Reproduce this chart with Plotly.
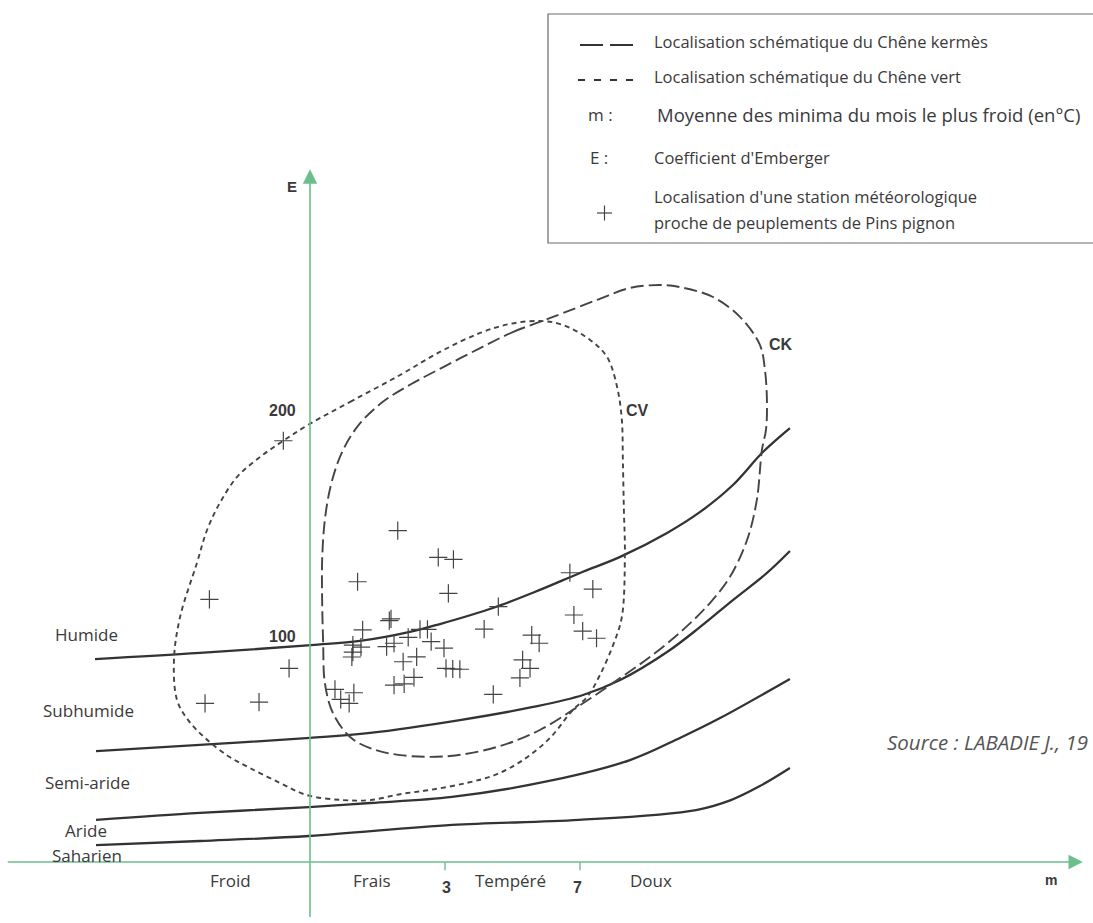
import plotly.graph_objects as go

# ---------------------------------------------------------------
# Climagramme d'Emberger : m (°C) en abscisse, E (quotient) en ordonnée
# ---------------------------------------------------------------

# Limites des étages bioclimatiques (m, E)
humide_m = [-7.37, -4.26, -0.97, 0.48, 1.96, 2.85, 4.42, 5.81, 7.00, 8.19, 9.58, 10.56, 11.53, 12.42, 13.22]
humide_E = [89.8, 92.5, 96.0, 97.8, 101.8, 105.3, 112.4, 120.4, 127.9, 135.0, 145.6, 154.9, 166.8, 181.4, 192.0]

subhumide_m = [-7.34, -4.26, -1.00, 0.78, 3.44, 5.61, 7.09, 8.19, 9.58, 10.56, 11.53, 12.54, 13.22]
subhumide_E = [49.1, 51.8, 54.9, 57.1, 62.8, 68.6, 73.9, 80.5, 92.9, 104.0, 115.9, 127.9, 137.6]

semiaride_m = [-7.34, -4.26, -1.03, 0.78, 3.21, 6.23, 8.48, 9.96, 11.15, 13.22]
semiaride_E = [18.6, 21.7, 24.3, 26.1, 28.8, 36.3, 45.1, 54.9, 63.7, 81.0]

aride_m = [-7.34, -4.26, -1.03, 3.21, 6.97, 10.44, 11.47, 12.33, 13.22]
aride_E = [7.5, 9.3, 11.5, 16.4, 18.6, 23.0, 27.4, 33.6, 41.6]

# Enveloppe du Chêne vert (CV)
cv_m = [-1.06, 0.19, 1.67, 2.85, 4.04, 4.93, 5.81, 6.50, 7.30, 7.80, 8.10, 8.24, 8.27, 8.30, 8.33,
        8.24, 7.98, 7.59, 7.21, 6.79, 6.11, 5.31, 4.48, 3.65, 2.56, 1.70, 0.78, -0.02, -1.09,
        -1.89, -2.78, -3.43, -4.11, -4.61, -4.94, -5.03, -4.85, -4.35, -4.05, -3.67, -3.16,
        -2.48, -1.80, -1.06]
cv_E = [193.4, 203.6, 215.5, 225.7, 234.1, 238.1, 239.4, 237.6, 231.0, 223.5, 210.2, 195.6, 177.9, 155.8, 136.7,
        108.4, 96.0, 82.7, 73.0, 67.3, 54.9, 45.1, 38.5, 35.0, 31.9, 30.1, 27.4, 27.4, 29.6,
        35.0, 41.6, 46.9, 54.9, 62.8, 71.7, 89.4, 108.4, 132.3, 146.9, 158.9, 170.4,
        179.2, 186.3, 193.4]

# Enveloppe du Chêne kermès (CK)
ck_m = [4.04, 5.01, 5.81, 6.50, 7.50, 8.48, 9.37, 9.96, 10.94, 11.74, 12.33, 12.48, 12.54, 12.51, 12.39,
        12.24, 11.95, 11.44, 10.85, 10.05, 9.07, 8.10, 7.59, 6.79, 5.81, 4.63, 3.15, 1.67, 0.78, 0.19,
        -0.32, -0.56, -0.61, -0.64, -0.64, -0.56, -0.38, -0.05, 0.45, 1.15, 2.00, 2.95, 4.04]
ck_E = [227.4, 234.5, 239.0, 242.9, 248.7, 254.0, 255.3, 254.4, 250.0, 241.2, 228.8, 217.7, 203.1, 191.2, 182.3,
        160.2, 142.5, 126.1, 114.6, 102.7, 90.7, 80.5, 75.2, 67.3, 58.4, 51.3, 46.9, 47.3, 50.4, 55.3,
        65.9, 79.2, 96.9, 115.9, 133.6, 151.3, 166.8, 181.4, 193.5, 203.5, 211.5, 219.0, 227.4]

# Stations météorologiques proches de peuplements de Pins pignon
station_m = [1.60, 2.80, 3.25, 0.41, 3.10, 6.70, 7.38, 4.58, 6.82, 4.16, 7.08, 7.49, 5.57, 5.79,
             5.30, 5.52, 5.22, 4.43, 0.56, 1.35, 1.40, 2.26, 2.48, 0.27, 0.51, 0.27, 0.24, 1.27,
             1.49, 1.91, 2.59, 2.97, 2.16, 1.76, 3.03, 3.23, 3.44, 2.08, 1.49, 1.79, -0.26, 0.30,
             -0.09, 0.16, -1.79, -3.98, -1.62, -4.11, -2.51]
station_E = [146.6, 134.8, 133.9, 124.0, 118.9, 128.0, 120.7, 113.0, 109.3, 103.0, 102.2, 99.0, 100.4, 96.8,
             89.4, 85.7, 81.5, 74.2, 102.7, 106.8, 107.6, 102.9, 102.9, 96.0, 95.1, 92.9, 90.7, 95.3,
             96.8, 99.4, 97.5, 94.6, 90.8, 88.6, 85.7, 85.4, 85.3, 81.7, 78.3, 78.8, 76.4, 74.9,
             72.0, 70.2, 186.4, 116.2, 85.7, 70.2, 70.7]

# Étiquettes
etages = ["Humide", "Subhumide", "Semi-aride", "Aride", "Saharien"]
hivers = ["Froid", "Frais", "Tempéré", "Doux"]
m_ticks = [3, 7]
E_ticks = [100, 200]

INK = "#3a3a3a"
GREEN = "#6cbf8c"
FONT = "Open Sans"
BOLD = "Liberation Sans"

W, H = 1093, 923
X_RANGE = [-10.185, 22.2]
Y_RANGE = [-26.99, 381.42]
Y_AXIS_M = -1.0  # position de l'axe des E

fig = go.Figure()

for xs, ys in [(humide_m, humide_E), (subhumide_m, subhumide_E),
               (semiaride_m, semiaride_E), (aride_m, aride_E)]:
    fig.add_trace(go.Scatter(x=xs, y=ys, mode="lines",
                             line=dict(color="#333333", width=2.3, shape="spline", smoothing=1.0),
                             hoverinfo="skip", showlegend=False))

fig.add_trace(go.Scatter(x=cv_m, y=cv_E, mode="lines",
                         line=dict(color="#444444", width=1.9, dash="5px,4px",
                                   shape="spline", smoothing=1.0),
                         hoverinfo="skip", showlegend=False))
fig.add_trace(go.Scatter(x=ck_m, y=ck_E, mode="lines",
                         line=dict(color="#444444", width=1.9, dash="13px,5px",
                                   shape="spline", smoothing=1.0),
                         hoverinfo="skip", showlegend=False))

fig.add_trace(go.Scatter(x=station_m, y=station_E, mode="markers",
                         marker=dict(symbol="cross-thin", size=13,
                                     line=dict(color="#444444", width=1.2)),
                         hoverinfo="skip", showlegend=False))

shapes = []
annotations = []

# Axes verts avec flèches
annotations.append(dict(x=21.9, y=0, ax=-10.0, ay=0, xref="x", yref="y", axref="x", ayref="y",
                        text="", showarrow=True, arrowhead=2, arrowsize=1.8, arrowwidth=1.6,
                        arrowcolor=GREEN))
annotations.append(dict(x=Y_AXIS_M, y=306.5, ax=Y_AXIS_M, ay=-25.0, xref="x", yref="y",
                        axref="x", ayref="y", text="", showarrow=True, arrowhead=2,
                        arrowsize=1.8, arrowwidth=1.6, arrowcolor=GREEN))

# Graduations de m
for t in m_ticks:
    shapes.append(dict(type="line", xref="x", yref="y", x0=t, x1=t, y0=0, y1=-3.6,
                       line=dict(color=GREEN, width=1.4)))
    annotations.append(dict(x=t, y=0, xref="x", yref="y", text=f"<b>{t}</b>", showarrow=False,
                            yanchor="middle", yshift=-25, xshift=(1 if t == 3 else -3),
                            font=dict(family=BOLD, size=16, color=INK)))

# Graduations de E
for t in E_ticks:
    annotations.append(dict(x=Y_AXIS_M, y=t, xref="x", yref="y", text=f"<b>{t}</b>",
                            showarrow=False, xanchor="right", yanchor="middle", xshift=-12,
                            font=dict(family=BOLD, size=16, color=INK)))

# Titres des axes
annotations.append(dict(x=Y_AXIS_M, y=299, xref="x", yref="y", text="<b>E</b>", showarrow=False,
                        xanchor="right", yanchor="middle", xshift=-11,
                        font=dict(family=BOLD, size=15, color=INK)))
annotations.append(dict(x=20.96, y=0, xref="x", yref="y", text="<b>m</b>", showarrow=False,
                        yanchor="middle", yshift=-18,
                        font=dict(family=BOLD, size=14, color=INK)))

# Noms des étages (à gauche)
etage_pos = [(53, 634), (41, 710), (43, 782), (63, 830), (50, 855)]
for name, (px, py) in zip(etages, etage_pos):
    annotations.append(dict(x=px / W, y=1 - py / H, xref="paper", yref="paper", text=name,
                            showarrow=False, xanchor="left", yanchor="middle",
                            font=dict(family=FONT, size=17, color=INK)))

# Variantes thermiques (sous l'axe)
hiver_pos = [230, 372, 511, 651]
for name, px in zip(hivers, hiver_pos):
    annotations.append(dict(x=px / W, y=1 - 880 / H, xref="paper", yref="paper", text=name,
                            showarrow=False, xanchor="center", yanchor="middle",
                            font=dict(family=FONT, size=17, color=INK)))

# Noms des enveloppes
annotations.append(dict(x=8.24, y=200, xref="x", yref="y", text="<b>CV</b>", showarrow=False,
                        xanchor="left", yanchor="middle", xshift=2,
                        font=dict(family=BOLD, size=16, color=INK)))
annotations.append(dict(x=12.33, y=228.8, xref="x", yref="y", text="<b>CK</b>", showarrow=False,
                        xanchor="left", yanchor="middle", xshift=7,
                        font=dict(family=BOLD, size=16, color=INK)))

# Source
annotations.append(dict(x=885 / W, y=1 - 742 / H, xref="paper", yref="paper",
                        text="<i>Source : LABADIE J., 19</i>", showarrow=False,
                        xanchor="left", yanchor="middle",
                        font=dict(family=FONT, size=20.5, color="#555555")))

# Cartouche de légende
shapes.append(dict(type="rect", xref="paper", yref="paper", x0=548 / W, x1=1.02,
                   y0=1 - 243 / H, y1=1 - 14 / H, line=dict(color="#6a6a6a", width=1.2),
                   fillcolor="rgba(0,0,0,0)"))
shapes.append(dict(type="line", xref="paper", yref="paper", x0=580 / W, x1=633 / W,
                   y0=1 - 45 / H, y1=1 - 45 / H,
                   line=dict(color="#333333", width=1.8, dash="23px,7px")))
shapes.append(dict(type="line", xref="paper", yref="paper", x0=578 / W, x1=635 / W,
                   y0=1 - 80 / H, y1=1 - 80 / H,
                   line=dict(color="#333333", width=1.8, dash="7px,9px")))

legend_rows = [
    (652, 42, "Localisation schématique du Chêne kermès", 16.5),
    (652, 77, "Localisation schématique du Chêne vert", 16.5),
    (655, 114, "Moyenne des minima du mois le plus froid (en°C)", 18.5),
    (652, 157, "Coefficient d'Emberger", 16.5),
    (652, 196, "Localisation d'une station météorologique", 16.5),
    (652, 222, "proche de peuplements de Pins pignon", 16.5),
]
for px, py, txt, sz in legend_rows:
    annotations.append(dict(x=px / W, y=1 - py / H, xref="paper", yref="paper", text=txt,
                            showarrow=False, xanchor="left", yanchor="middle",
                            font=dict(family=FONT, size=sz, color=INK)))
for px, py, txt, sz in [(586, 114, "m :", 17), (588, 157, "E :", 17)]:
    annotations.append(dict(x=px / W, y=1 - py / H, xref="paper", yref="paper", text=txt,
                            showarrow=False, xanchor="left", yanchor="middle",
                            font=dict(family=FONT, size=sz, color=INK)))

# Symbole « station » de la légende
shapes.append(dict(type="line", xref="paper", yref="paper", x0=597 / W, x1=612 / W,
                   y0=1 - 213 / H, y1=1 - 213 / H, line=dict(color="#444444", width=1.2)))
shapes.append(dict(type="line", xref="paper", yref="paper", x0=604.5 / W, x1=604.5 / W,
                   y0=1 - 205.5 / H, y1=1 - 220.5 / H, line=dict(color="#444444", width=1.2)))

fig.update_layout(
    width=W, height=H, autosize=False,
    margin=dict(l=0, r=0, t=0, b=0, pad=0),
    paper_bgcolor="white", plot_bgcolor="white",
    xaxis=dict(range=X_RANGE, visible=False, fixedrange=True),
    yaxis=dict(range=Y_RANGE, visible=False, fixedrange=True),
    shapes=shapes, annotations=annotations, showlegend=False,
)

fig.write_html("out.html")
